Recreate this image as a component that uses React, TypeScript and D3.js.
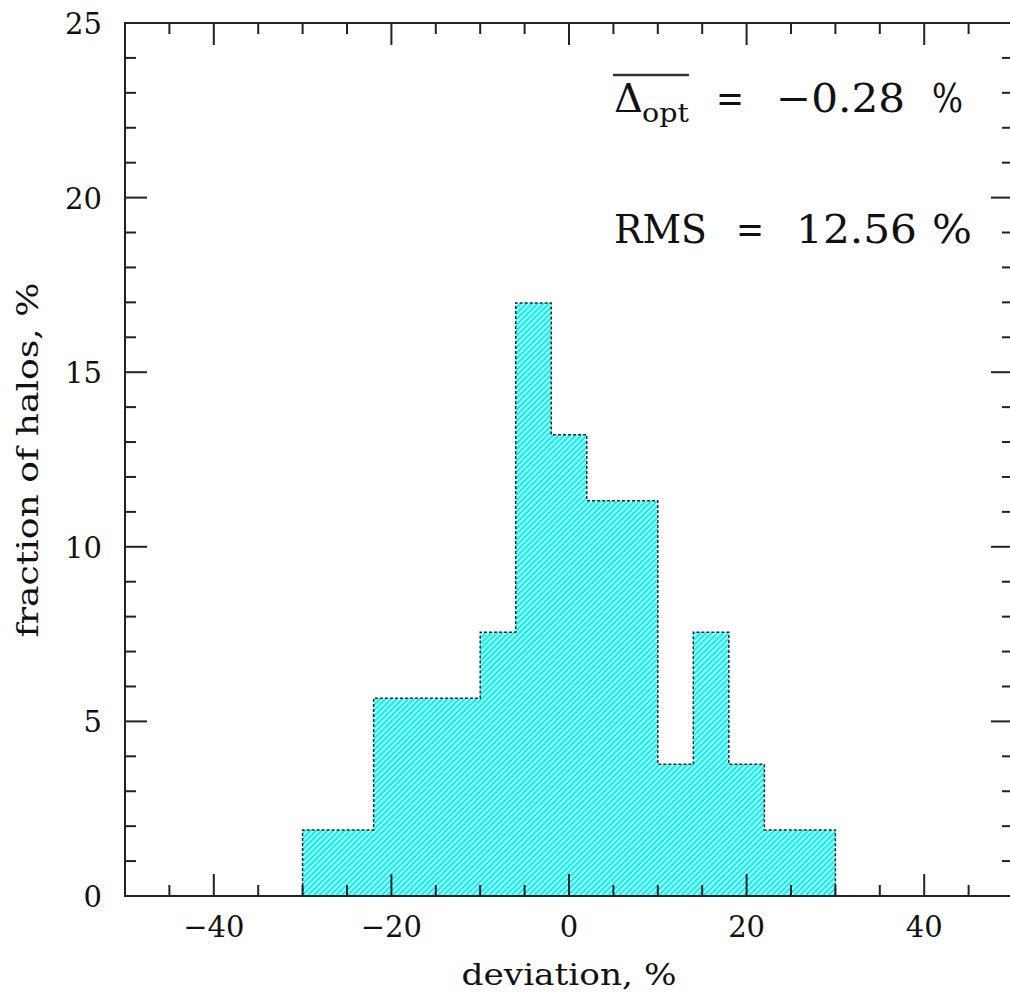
import * as d3 from 'd3';

// histogram of deviations: bin left edges (width 4) and fraction of halos (%)
const binEdges = [-30, -26, -22, -18, -14, -10, -6, -2, 2, 6, 10, 14, 18, 22, 26];
const binWidth = 4;
const fractions = [1.89, 1.89, 5.66, 5.66, 5.66, 7.55, 16.98, 13.21, 11.32, 11.32, 3.77, 7.55, 3.77, 1.89, 1.89];

const xMajor = [-40, -20, 0, 20, 40];
const yMajor = [0, 5, 10, 15, 20, 25];

const meanLabel = '−0.28';
const rmsLabel = '12.56';

const W = 1010, H = 994;
const M = { left: 125, top: 23, bottom: 98 };
const X_RIGHT = 1013; // right frame edge falls just outside the picture
const FONT = '"DejaVu Serif", serif';

export default function App() {
  const x = d3.scaleLinear().domain([-50, 50]).range([M.left, X_RIGHT]);
  const y = d3.scaleLinear().domain([0, 25]).range([H - M.bottom, M.top]);
  const y0 = y(0);

  // step outline of the histogram
  const pts: [number, number][] = [[x(binEdges[0]), y0]];
  binEdges.forEach((e, i) => {
    pts.push([x(e), y(fractions[i])]);
    pts.push([x(e + binWidth), y(fractions[i])]);
  });
  pts.push([x(binEdges[binEdges.length - 1] + binWidth), y0]);
  const outline = d3.line()(pts) + 'Z';

  const xMinor = d3.range(-50, 51, 5).filter(v => !xMajor.includes(v));
  const yMinor = d3.range(0, 26, 1).filter(v => !yMajor.includes(v));
  const majLen = 22, minLen = 11;
  const tickStroke = '#222';

  return (
    <svg width={W} height={H} style={{ display: 'block', position: 'absolute', left: 0, top: 0 }}>
      <defs>
        <pattern id="hatch" patternUnits="userSpaceOnUse" width={4} height={4} patternTransform="rotate(45)">
          <rect width={4} height={4} fill="#00f5f5" />
          <line x1={0.8} y1={0} x2={0.8} y2={4} stroke="#ffffff" strokeWidth={1.4} />
        </pattern>
      </defs>
      <rect width={W} height={H} fill="#fff" />

      <path d={outline} fill="url(#hatch)" stroke="#2a2a2a" strokeWidth={1.5} strokeDasharray="3,2" />

      {/* frame */}
      <rect x={M.left} y={M.top} width={X_RIGHT - M.left} height={y0 - M.top} fill="none" stroke={tickStroke} strokeWidth={2} />

      {/* x ticks bottom and top */}
      {xMajor.map(v => (
        <g key={'xM' + v}>
          <line x1={x(v)} x2={x(v)} y1={y0} y2={y0 - majLen} stroke={tickStroke} strokeWidth={2} />
          <line x1={x(v)} x2={x(v)} y1={M.top} y2={M.top + majLen} stroke={tickStroke} strokeWidth={2} />
          <text x={x(v)} y={937} textAnchor="middle" fontFamily={FONT} fontSize={29} fill="#111">
            {v < 0 ? '−' + Math.abs(v) : v}
          </text>
        </g>
      ))}
      {xMinor.map(v => (
        <g key={'xm' + v}>
          <line x1={x(v)} x2={x(v)} y1={y0} y2={y0 - minLen} stroke={tickStroke} strokeWidth={2} />
          <line x1={x(v)} x2={x(v)} y1={M.top} y2={M.top + minLen} stroke={tickStroke} strokeWidth={2} />
        </g>
      ))}

      {/* y ticks left and right */}
      {yMajor.map(v => (
        <g key={'yM' + v}>
          <line x1={M.left} x2={M.left + majLen} y1={y(v)} y2={y(v)} stroke={tickStroke} strokeWidth={2} />
          <line x1={X_RIGHT} x2={X_RIGHT - majLen} y1={y(v)} y2={y(v)} stroke={tickStroke} strokeWidth={2} />
          <text x={102} y={y(v) + 11} textAnchor="end" fontFamily={FONT} fontSize={29} fill="#111">{v}</text>
        </g>
      ))}
      {yMinor.map(v => (
        <g key={'ym' + v}>
          <line x1={M.left} x2={M.left + minLen} y1={y(v)} y2={y(v)} stroke={tickStroke} strokeWidth={2} />
          <line x1={X_RIGHT} x2={X_RIGHT - minLen} y1={y(v)} y2={y(v)} stroke={tickStroke} strokeWidth={2} />
        </g>
      ))}

      {/* axis titles */}
      <text x={569} y={985} textAnchor="middle" fontFamily={FONT} fontSize={29} fill="#111" textLength={215} lengthAdjust="spacingAndGlyphs">
        deviation, %
      </text>
      <text transform="translate(38,460) rotate(-90)" textAnchor="middle" fontFamily={FONT} fontSize={29} fill="#111" textLength={355} lengthAdjust="spacingAndGlyphs">
        fraction of halos, %
      </text>

      {/* annotations */}
      <g fontFamily={FONT} fill="#111">
        <text x={614} y={112} fontSize={40}>Δ</text>
        <text x={642} y={122} fontSize={26} textLength={47} lengthAdjust="spacingAndGlyphs">opt</text>
        <line x1={613} x2={689} y1={75} y2={75} stroke="#333" strokeWidth={2.5} />
        <text x={716} y={112} fontSize={40} textLength={28} lengthAdjust="spacingAndGlyphs">=</text>
        <text x={776} y={112} fontSize={40} textLength={129} lengthAdjust="spacingAndGlyphs">{meanLabel}</text>
        <text x={932} y={112} fontSize={40} textLength={31} lengthAdjust="spacingAndGlyphs">%</text>

        <text x={614} y={243} fontSize={40} textLength={93} lengthAdjust="spacingAndGlyphs">RMS</text>
        <text x={736} y={243} fontSize={40} textLength={28} lengthAdjust="spacingAndGlyphs">=</text>
        <text x={796} y={243} fontSize={40} textLength={121} lengthAdjust="spacingAndGlyphs">{rmsLabel}</text>
        <text x={932} y={243} fontSize={40} textLength={40} lengthAdjust="spacingAndGlyphs">%</text>
      </g>
    </svg>
  );
}
